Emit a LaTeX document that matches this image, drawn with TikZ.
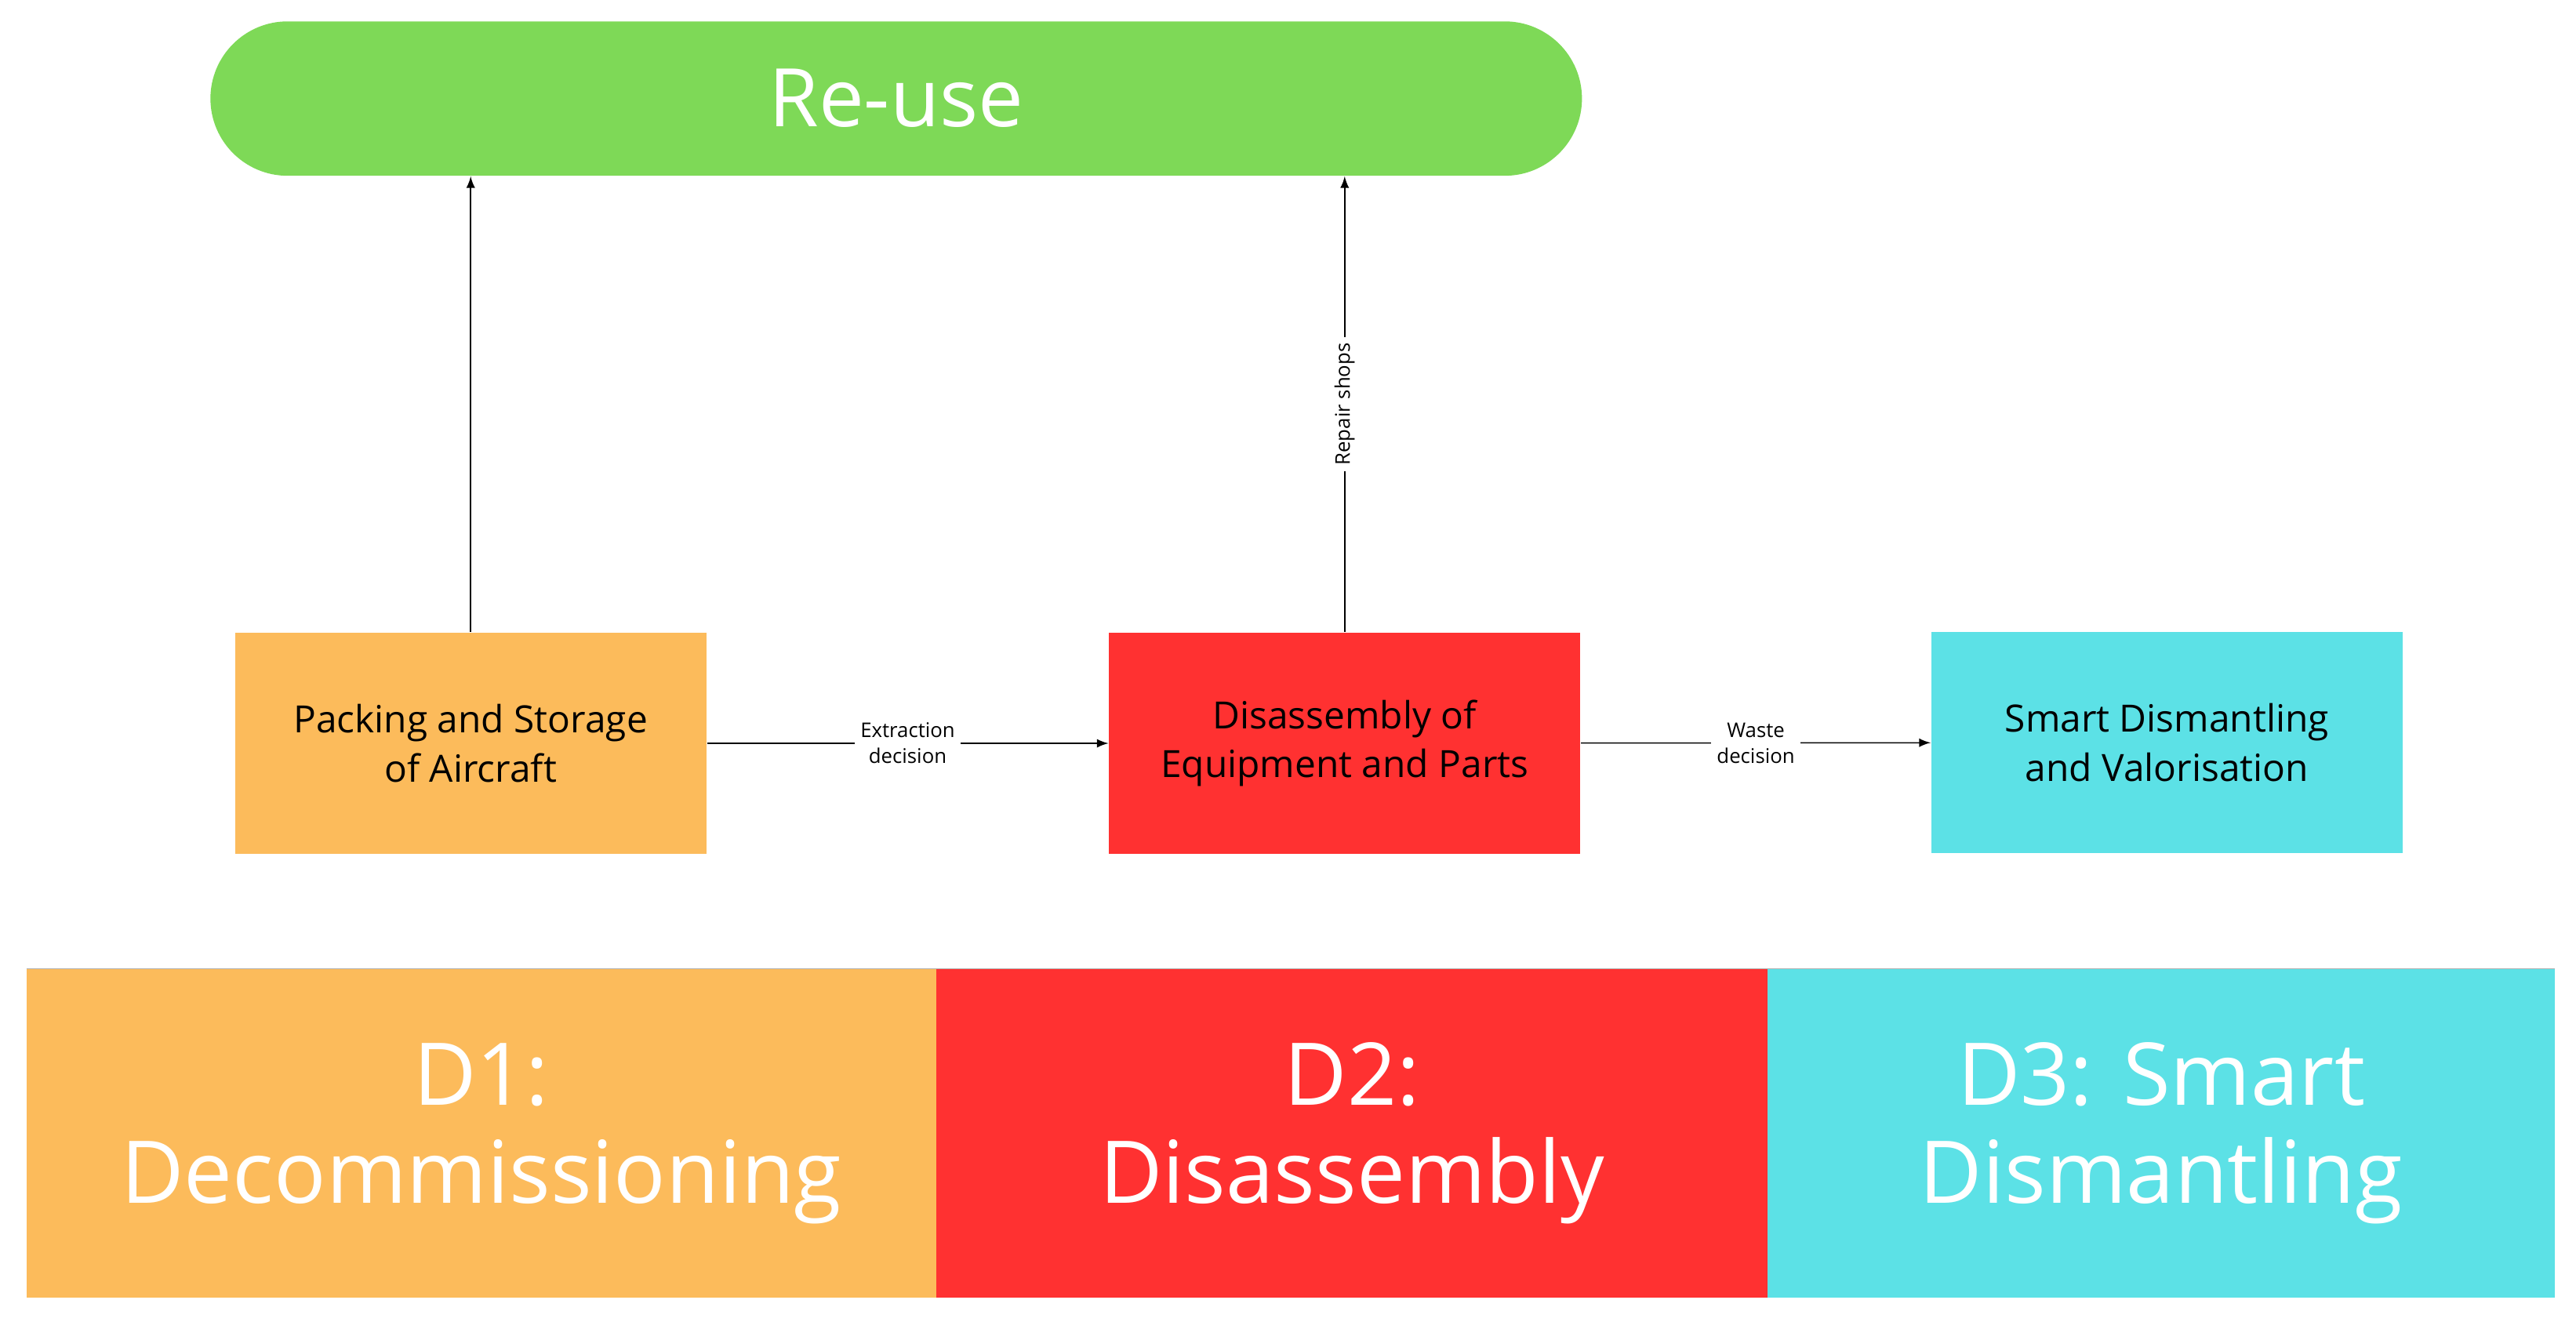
\documentclass[tikz,border=0pt]{standalone}
\usepackage{fontspec}
\setmainfont{Open Sans}
\usetikzlibrary{positioning}
\definecolor{reusegreen}{HTML}{7ED957}
\definecolor{decomorange}{HTML}{FCBB5B}
\definecolor{disred}{HTML}{FF3131}
\definecolor{smartcyan}{HTML}{5CE1E6}
\tikzset{
  stage/.style={minimum width=5.74cm, minimum height=2.7cm, align=center, font=\fontsize{13}{17}\selectfont, inner sep=0pt},
  band/.style={minimum height=4cm, inner sep=0pt, align=center, text=white, font=\fontsize{30}{34}\selectfont},
  flow/.style={-latex, thin},
  small/.style={font=\fontsize{7}{9}\selectfont, fill=white, align=center, inner sep=2pt}
}
\begin{document}
\begin{tikzpicture}[x=0.02cm,y=-0.02cm]
    \useasboundingbox (0,0) rectangle (1568,809);
    %obere Leiste
    \node[fill=reusegreen, rounded corners=0.94cm, minimum width=16.7cm, minimum height=1.88cm, text=white, font=\fontsize{28}{32}\selectfont] (reuse) at (545.5,60) {Re-use};

    %Prozessschritte
    \node[stage, fill=decomorange] (packing) at (286.5,452.5) {Packing and Storage\\of Aircraft};
    \node[stage, fill=disred] (disassembly) at (818.5,452.5) {Disassembly of\\Equipment and Parts};
    \node[stage, fill=smartcyan] (smart) at (1319,452) {Smart Dismantling\\and Valorisation};

    \draw[flow] (packing.north) -- (packing.north |- reuse.south);
    \draw[flow] (disassembly.north) -- node[small, rotate=90] {Repair shops} (disassembly.north |- reuse.south);
    \draw[flow] (packing) -- node[small] {Extraction\\decision} (disassembly);
    \draw[flow] (disassembly) -- node[small] {Waste\\decision} (smart);

    %Phasen unten
    \draw[gray!60] (16,590) -- (1555,590);
    \node[band, fill=decomorange, minimum width=11.08cm] (d1) at (293,690) {D1:\\Decommissioning};
    \node[band, fill=disred, minimum width=10.12cm] (d2) at (823,690) {D2:\\Disassembly};
    \node[band, fill=smartcyan, minimum width=9.58cm] (d3) at (1315.5,690) {D3: Smart\\Dismantling};
\end{tikzpicture}
\end{document}
